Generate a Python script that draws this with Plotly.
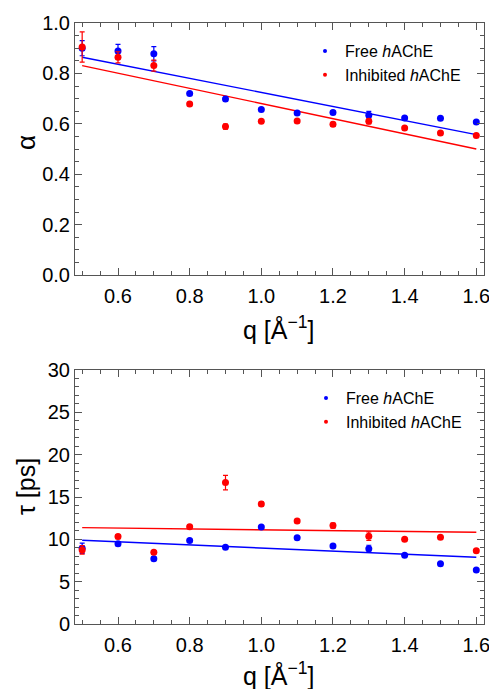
import plotly.graph_objects as go

# ---------------- data ----------------
q = [0.5, 0.6, 0.7, 0.8, 0.9, 1.0, 1.1, 1.2, 1.3, 1.4, 1.5, 1.6]

alpha_free = [0.90, 0.889, 0.878, 0.720, 0.698, 0.657, 0.643, 0.645, 0.634, 0.623, 0.622, 0.607]
alpha_free_err = [0.03, 0.026, 0.028, 0.006, 0.008, 0.006, 0.006, 0.006, 0.015, 0.005, 0.005, 0.005]
alpha_inh = [0.905, 0.864, 0.831, 0.679, 0.589, 0.610, 0.611, 0.598, 0.610, 0.583, 0.563, 0.554]
alpha_inh_err = [0.06, 0.022, 0.022, 0.006, 0.01, 0.005, 0.006, 0.008, 0.01, 0.006, 0.006, 0.005]

tau_free = [8.95, 9.49, 7.72, 9.85, 9.07, 11.47, 10.20, 9.22, 8.90, 8.12, 7.13, 6.38]
tau_free_err = [0.6, 0.25, 0.2, 0.15, 0.15, 0.15, 0.15, 0.2, 0.4, 0.15, 0.15, 0.15]
tau_inh = [8.75, 10.32, 8.47, 11.50, 16.70, 14.18, 12.17, 11.62, 10.37, 10.01, 10.25, 8.66]
tau_inh_err = [0.5, 0.25, 0.2, 0.2, 0.85, 0.25, 0.2, 0.3, 0.5, 0.2, 0.15, 0.2]

# linear fit parameters (intercept, slope)
alpha_free_fit = (1.0035, -0.279)
alpha_inh_fit = (0.9815, -0.301)
tau_free_fit = (10.80, -1.827)
tau_inh_fit = (11.63, -0.50)

x_ticks = [0.6, 0.8, 1.0, 1.2, 1.4, 1.6]
series_names = ["Free <i>h</i>AChE", "Inhibited <i>h</i>AChE"]

BLUE = "#0000ff"
RED = "#ff0000"
FONT = "Liberation Sans, Arial, sans-serif"
FRAME = "#555555"

fit_x = [q[0], q[-1]]


def fit_line(params):
    a, b = params
    return [a + b * x for x in fit_x]


fig = go.Figure()


def add_panel(xa, ya, free, free_err, inh, inh_err, ffit, ifit, legend):
    fig.add_trace(go.Scatter(x=fit_x, y=fit_line(ffit), mode="lines",
                             line=dict(color=BLUE, width=1.4), xaxis=xa, yaxis=ya,
                             showlegend=False, hoverinfo="skip"))
    fig.add_trace(go.Scatter(x=fit_x, y=fit_line(ifit), mode="lines",
                             line=dict(color=RED, width=1.4), xaxis=xa, yaxis=ya,
                             showlegend=False, hoverinfo="skip"))
    fig.add_trace(go.Scatter(x=q, y=free, mode="markers",
                             marker=dict(color=BLUE, size=7),
                             error_y=dict(type="data", array=free_err, color=BLUE,
                                          thickness=1.2, width=2.5),
                             xaxis=xa, yaxis=ya, showlegend=False))
    fig.add_trace(go.Scatter(x=q, y=inh, mode="markers",
                             marker=dict(color=RED, size=7),
                             error_y=dict(type="data", array=inh_err, color=RED,
                                          thickness=1.2, width=2.5),
                             xaxis=xa, yaxis=ya, showlegend=False))
    # legend entries
    for name, col in zip(series_names, [BLUE, RED]):
        fig.add_trace(go.Scatter(x=[None], y=[None], mode="markers", name=name,
                                 marker=dict(color=col, size=4),
                                 xaxis=xa, yaxis=ya, legend=legend, showlegend=True))


add_panel("x", "y", alpha_free, alpha_free_err, alpha_inh, alpha_inh_err,
          alpha_free_fit, alpha_inh_fit, "legend")
add_panel("x2", "y2", tau_free, tau_free_err, tau_inh, tau_inh_err,
          tau_free_fit, tau_inh_fit, "legend2")

# page has an 8px body margin; figure is sized so that it reaches the window edges
OFF = 8
W, H = 497 - OFF, 689 - OFF


def px(x):
    return (x - OFF) / W


def py(y):
    return 1 - (y - OFF) / H


xdom = [px(75), px(484)]

axis_common = dict(showline=True, linecolor=FRAME, linewidth=1, mirror="ticks",
                   ticks="inside", ticklen=7, tickwidth=1, tickcolor=FRAME,
                   showgrid=False, zeroline=False,
                   tickfont=dict(family=FONT, size=20, color="black"))

xminor = dict(ticks="inside", ticklen=4, dtick=0.05, tick0=0.5, tickcolor=FRAME)

fig.update_layout(
    width=W, height=H,
    margin=dict(l=0, r=0, t=0, b=0, autoexpand=False),
    paper_bgcolor="white", plot_bgcolor="white",
    xaxis=dict(domain=xdom, anchor="y", range=[0.48, 1.6215], tickvals=x_ticks,
               tickformat=".1f", minor=xminor, ticklabelstandoff=3,
               ticklabeloverflow="allow", **axis_common),
    yaxis=dict(domain=[py(275), py(23)], anchor="x", range=[0, 1], dtick=0.2,
               tickformat=".1f",
               minor=dict(ticks="inside", ticklen=4, dtick=0.05, tickcolor=FRAME),
               **axis_common),
    xaxis2=dict(domain=xdom, anchor="y2", range=[0.48, 1.6215], tickvals=x_ticks,
                tickformat=".1f", minor=xminor, ticklabelstandoff=3,
                ticklabeloverflow="allow", **axis_common),
    yaxis2=dict(domain=[py(624), py(370)], anchor="x2", range=[0, 30], dtick=5,
                minor=dict(ticks="inside", ticklen=4, dtick=1, tickcolor=FRAME),
                **axis_common),
    legend=dict(x=px(342 - 37), xanchor="left", y=py(34), yanchor="top",
                font=dict(family=FONT, size=16, color="black"),
                bgcolor="rgba(0,0,0,0)", itemwidth=30, tracegroupgap=0),
    legend2=dict(x=px(343 - 37), xanchor="left", y=py(381), yanchor="top",
                 font=dict(family=FONT, size=16, color="black"),
                 bgcolor="rgba(0,0,0,0)", itemwidth=30, tracegroupgap=0),
    annotations=[
        dict(text="α", x=px(26), y=py(143), xref="paper", yref="paper",
             xanchor="center", yanchor="middle",
             showarrow=False, textangle=-90, font=dict(family=FONT, size=26, color="black")),
        dict(text="τ [ps]", x=px(26), y=py(487), xref="paper", yref="paper",
             xanchor="center", yanchor="middle",
             showarrow=False, textangle=-90, font=dict(family=FONT, size=25, color="black")),
        dict(text="q [Å<sup>−1</sup>]", x=px(278), y=py(328), xref="paper", yref="paper",
             xanchor="center", yanchor="middle",
             showarrow=False, font=dict(family=FONT, size=25, color="black")),
        dict(text="q [Å<sup>−1</sup>]", x=px(278), y=py(674), xref="paper", yref="paper",
             xanchor="center", yanchor="middle",
             showarrow=False, font=dict(family=FONT, size=25, color="black")),
    ],
)

fig.write_html("out.html")
